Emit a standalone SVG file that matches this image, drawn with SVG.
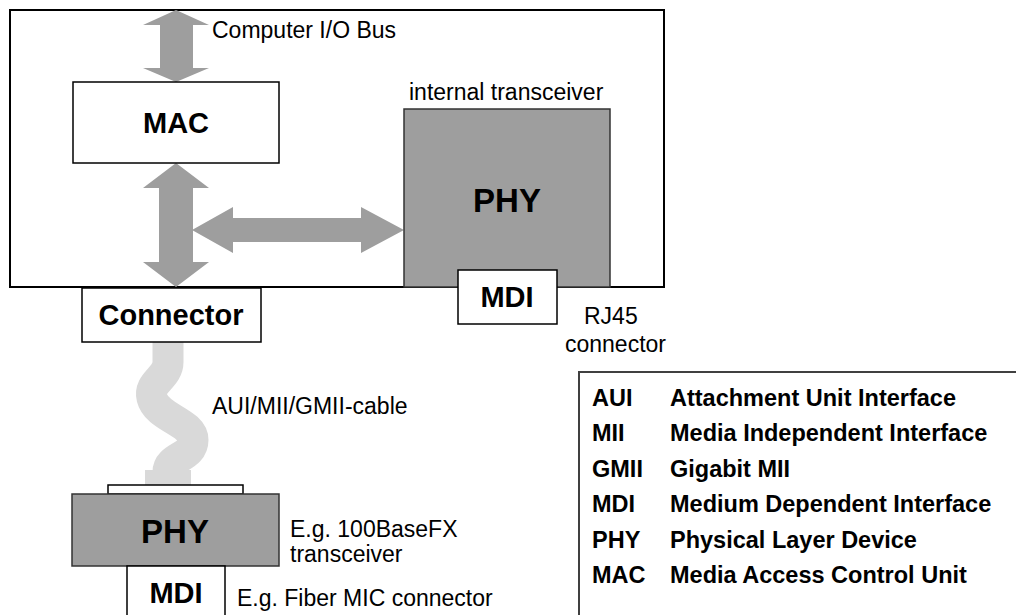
<svg xmlns="http://www.w3.org/2000/svg" width="1016" height="615" viewBox="0 0 1016 615">
<style>
.reg{font-family:"Liberation Sans",Arial,sans-serif;font-size:23px;fill:#000}
.bold{font-family:"Liberation Sans",Arial,sans-serif;font-weight:bold;fill:#000}
.lbl{font-size:29px;text-anchor:middle}
.big{font-size:33px;text-anchor:middle}
.leg{font-family:"Liberation Sans",Arial,sans-serif;font-weight:bold;font-size:23.5px;fill:#000}
.white{fill:#fff;stroke:#000;stroke-width:1.5}
.gray{fill:#9e9e9e;stroke:#333;stroke-width:1.5}
.arrow{fill:#9e9e9e;stroke:none}
</style>
<g id="computer">
<rect x="10" y="10" width="654" height="277" fill="#fff" stroke="#000" stroke-width="2"/>
</g>
<g id="connectors">
<polygon class="arrow" points="176,10 209,25 193,25 193,68 209,68 176,82 143,68 160,68 160,25 143,25"/>
<polygon class="arrow" points="176,163 209,188 193,188 193,262 209,262 176,287 143,262 159,262 159,188 143,188"/>
<polygon class="arrow" points="192,230 233,207 233,218 361,218 361,207 404,230 361,253 361,242 233,242 233,253"/>
<path d="M168,342 L168,362 C168,378 148,382 152,398 C157,418 193,422 193,440 C193,458 168,456 168,472 L168,486" fill="none" stroke="#d9d9d9" stroke-width="31"/>
<path d="M168,470 L168,486" fill="none" stroke="#d9d9d9" stroke-width="46"/>
</g>
<g id="mac">
<rect class="white" x="73" y="82" width="206" height="81"/>
<text class="bold lbl" x="176" y="133">MAC</text>
</g>
<g id="phy-internal">
<rect class="gray" x="404" y="109" width="206" height="178"/>
<text class="bold big" x="507" y="212">PHY</text>
</g>
<g id="mdi-internal">
<rect class="white" x="458" y="270" width="99" height="54"/>
<text class="bold lbl" x="507" y="307">MDI</text>
</g>
<g id="connector">
<rect class="white" x="82" y="288" width="179" height="54"/>
<text class="bold lbl" x="171" y="325">Connector</text>
</g>
<g id="plate">
<rect class="white" x="108" y="485" width="135" height="9"/>
</g>
<g id="phy-external">
<rect class="gray" x="72" y="494" width="207" height="72"/>
<text class="bold big" x="175" y="543">PHY</text>
</g>
<g id="mdi-external">
<rect class="white" x="127" y="566" width="98" height="60"/>
<text class="bold lbl" x="176" y="603">MDI</text>
</g>
<g id="labels">
<text class="reg" x="212" y="38">Computer I/O Bus</text>
<text class="reg" x="409" y="100">internal transceiver</text>
<text class="reg" x="584" y="324">RJ45</text>
<text class="reg" x="565" y="352">connector</text>
<text class="reg" x="212" y="414">AUI/MII/GMII-cable</text>
<text class="reg" x="290" y="537">E.g. 100BaseFX</text>
<text class="reg" x="290" y="562">transceiver</text>
<text class="reg" x="237" y="606">E.g. Fiber MIC connector</text>
</g>
<g id="legend">
<rect x="579" y="372" width="500" height="300" fill="#fff" stroke="#404040" stroke-width="2"/>
<text class="leg" x="592" y="405.5">AUI</text><text class="leg" x="670" y="405.5">Attachment Unit Interface</text>
<text class="leg" x="592" y="441">MII</text><text class="leg" x="670" y="441">Media Independent Interface</text>
<text class="leg" x="592" y="476.5">GMII</text><text class="leg" x="670" y="476.5">Gigabit MII</text>
<text class="leg" x="592" y="512">MDI</text><text class="leg" x="670" y="512">Medium Dependent Interface</text>
<text class="leg" x="592" y="547.5">PHY</text><text class="leg" x="670" y="547.5">Physical Layer Device</text>
<text class="leg" x="592" y="583">MAC</text><text class="leg" x="670" y="583">Media Access Control Unit</text>
</g>
</svg>
